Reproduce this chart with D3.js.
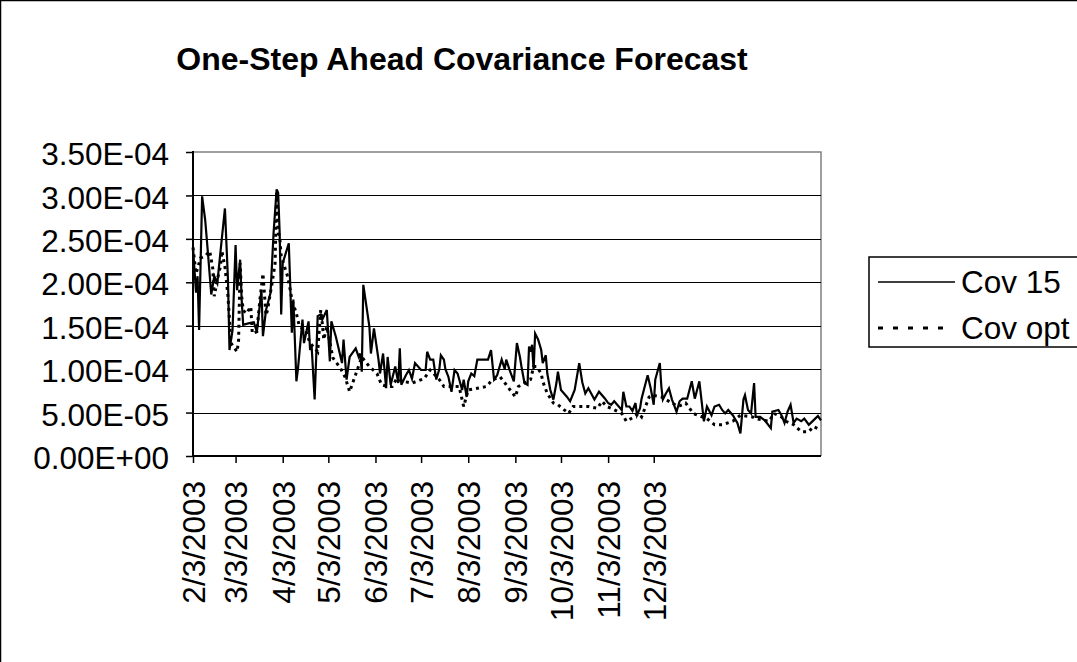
<!DOCTYPE html>
<html>
<head>
<meta charset="utf-8">
<script src="https://cdn.jsdelivr.net/npm/d3@7"></script>
<style>
  body { margin: 0; background: #fff; }
  svg { display: block; font-family: Arial, "Liberation Sans", sans-serif; }
</style>
</head>
<body>
<div id="chart"></div>
<script>
//data
//days are counted from the first observation (2/3/2003), values in units of 1e-4
var startDate = "2/3/2003";
var endDay = 413;

var tickLabels = ["2/3/2003","3/3/2003","4/3/2003","5/3/2003","6/3/2003","7/3/2003",
                  "8/3/2003","9/3/2003","10/3/2003","11/3/2003","12/3/2003"];

var yTicks = [0, 0.5, 1, 1.5, 2, 2.5, 3, 3.5];

var cov15Days = [0,2,3,4,6,8,10,12,14,16,18,21,23,24,26,28,29,31,32,33,37,40,42,45,46,48,51,53,55,56,
  57,58,59,63,65,66,68,69,72,73,76,77,78,80,82,84,85,88,90,91,94,96,98,99,101,103,107,109,110,111,
  112,116,117,119,122,123,125,127,128,130,133,135,136,137,140,142,144,146,150,153,154,156,158,159,160,162,163,165,166,168,
  170,172,174,177,178,180,181,183,185,187,194,196,198,200,203,205,206,208,211,213,215,216,218,220,221,222,223,224,225,227,
  229,230,232,233,235,237,239,240,242,246,248,251,254,256,258,260,264,267,271,273,275,277,280,282,283,285,287,289,291,292,
  294,295,299,301,303,304,307,308,309,311,313,315,318,320,322,325,328,330,333,336,338,341,343,346,348,350,352,353,355,358,
  360,362,363,365,367,369,370,373,376,380,381,385,387,389,391,393,395,397,400,402,405,408,411,413];
var cov15 = [2.40,1.88,2.07,1.45,2.99,2.72,2.30,1.86,2.07,1.99,2.34,2.85,2.03,1.22,1.45,2.43,1.91,2.26,1.80,1.51,1.53,1.54,1.43,1.91,1.38,1.68,1.88,2.57,3.07,3.03,
  2.57,1.63,2.22,2.45,1.42,1.80,0.86,1.00,1.57,1.30,1.55,1.22,1.27,0.65,1.61,1.63,1.57,1.68,1.09,1.55,1.37,1.22,1.07,1.34,0.88,1.14,1.24,1.14,1.18,0.97,
  1.97,1.49,1.18,1.47,1.11,0.95,1.18,0.78,1.14,0.82,1.03,0.84,1.24,0.82,0.93,0.99,0.89,1.07,0.99,0.99,1.20,1.11,1.11,0.99,0.88,1.00,1.16,1.11,1.00,0.91,
  0.74,0.99,0.95,0.76,0.88,0.68,0.86,0.95,0.92,1.11,1.11,1.22,0.88,0.93,1.11,1.00,1.11,1.00,0.86,1.30,1.14,1.03,0.84,0.82,1.26,1.20,1.28,0.99,1.41,1.34,
  1.22,1.07,1.16,0.95,0.76,0.65,0.84,0.97,0.76,0.68,0.63,0.76,1.07,0.85,0.72,0.78,0.65,0.74,0.66,0.61,0.59,0.63,0.57,0.53,0.74,0.57,0.57,0.52,0.61,0.47,
  0.55,0.66,0.93,0.78,0.59,0.88,1.07,0.80,0.65,0.72,0.78,0.65,0.51,0.63,0.66,0.66,0.86,0.66,0.86,0.40,0.57,0.47,0.57,0.59,0.53,0.49,0.53,0.51,0.47,0.38,
  0.26,0.65,0.70,0.53,0.49,0.84,0.45,0.45,0.41,0.32,0.51,0.53,0.47,0.38,0.51,0.59,0.38,0.43,0.40,0.43,0.36,0.41,0.46,0.41];

var covOptDays = [0,2,5,8,11,13,14,16,18,19,21,23,25,29,30,31,32,33,35,38,39,42,44,46,48,49,52,54,55,56,
  57,58,62,64,65,68,70,74,77,82,84,85,86,88,92,97,100,103,108,111,116,121,124,128,131,134,138,144,152,156,
  162,165,170,175,178,181,193,197,202,206,212,214,218,222,224,226,229,230,233,237,240,247,250,257,260,266,269,272,275,282,
  285,290,293,295,300,302,308,310,319,324,329,338,343,348,355,360,368,370,379,382,387,390,395,400,405,408,413];
var covOpt = [2.40,2.10,2.28,2.30,2.36,2.16,1.84,2.03,2.18,2.36,2.18,1.84,1.30,1.20,1.34,2.22,1.84,1.68,1.64,1.72,1.41,1.43,1.80,2.10,1.62,1.68,1.99,2.22,3.03,2.57,
  2.53,2.30,2.08,1.91,1.80,1.64,1.49,1.45,1.30,1.20,1.68,1.53,1.34,1.49,1.13,1.01,0.91,0.74,0.99,1.14,1.03,0.95,0.82,0.80,0.80,0.89,0.86,0.84,0.89,0.99,
  0.88,0.80,0.80,0.80,0.57,0.76,0.80,0.88,0.91,0.82,0.68,0.80,0.84,0.88,1.03,1.03,0.95,0.86,0.72,0.61,0.59,0.49,0.57,0.57,0.57,0.55,0.63,0.57,0.55,0.49,
  0.40,0.45,0.49,0.45,0.68,0.70,0.68,0.66,0.57,0.61,0.49,0.43,0.36,0.36,0.40,0.47,0.45,0.43,0.40,0.49,0.45,0.40,0.36,0.28,0.28,0.34,0.30];

var seriesNames = ["Cov 15", "Cov opt"];

//layout
var W = 1077, H = 662;
var plot = {left: 193, right: 821, top: 152, bottom: 456};
var labelSize = "31.5px";

var parse = d3.timeParse("%m/%d/%Y");
var t0 = parse(startDate);

var x = d3.scaleTime()
  .domain([t0, d3.timeDay.offset(t0, endDay)])
  .range([plot.left, plot.right]);
var y = d3.scaleLinear()
  .domain([0, 3.5e-4])
  .range([plot.bottom, plot.top]);

function sci(v){
  var parts = v.toExponential(2).split("e");
  var e = +parts[1];
  return parts[0] + "E" + (e < 0 ? "-" : "+") + d3.format("02d")(Math.abs(e));
}

function toPoints(days, vals){
  return days.map(function(d,i){ return {date: d3.timeDay.offset(t0, d), value: vals[i] * 1e-4}; });
}

var svg = d3.select("#chart").append("svg")
  .attr("width", W).attr("height", H);

svg.append("rect").attr("width", W).attr("height", H).attr("fill", "#fff");

//outer chart frame (runs off the right side)
svg.append("path")
  .attr("d", "M0.5," + (H + 5) + "V0.5H" + (W + 5))
  .attr("fill", "none").attr("stroke", "#000").attr("stroke-width", 1.5);

//title
svg.append("text")
  .attr("x", 462).attr("y", 70)
  .attr("text-anchor", "middle")
  .style("font-size", "32px").style("font-weight", "bold")
  .text("One-Step Ahead Covariance Forecast");

//plot frame, top and right in grey
svg.append("path")
  .attr("d", "M" + plot.left + "," + plot.top + "H" + plot.right + "V" + plot.bottom)
  .attr("fill", "none").attr("stroke", "#808080").attr("stroke-width", 1.5);

//gridlines
svg.append("g").selectAll("line")
  .data(yTicks.filter(function(v){ return v > 0 && v < 3.5; }))
  .enter().append("line")
  .attr("x1", plot.left).attr("x2", plot.right)
  .attr("y1", function(d){ return Math.round(y(d * 1e-4)) + 0.5; })
  .attr("y2", function(d){ return Math.round(y(d * 1e-4)) + 0.5; })
  .attr("stroke", "#000").attr("stroke-width", 1.2);

//y axis
var yAxis = svg.append("g")
  .attr("transform", "translate(" + plot.left + ",0)")
  .call(d3.axisLeft(y)
    .tickValues(yTicks.map(function(v){ return v * 1e-4; }))
    .tickFormat(sci).tickSize(7).tickPadding(17));
yAxis.select(".domain").attr("stroke-width", 2)
  .attr("d", "M0," + (plot.top - 1) + "V" + (plot.bottom + 1));
yAxis.selectAll(".tick line").attr("stroke-width", 1.5);
yAxis.selectAll("text")
  .style("font-size", labelSize)
  .attr("fill", "#000").attr("dy", "0.40em");

//x axis
var xAxis = svg.append("g")
  .attr("transform", "translate(0," + plot.bottom + ")")
  .call(d3.axisBottom(x)
    .tickValues(tickLabels.map(parse))
    .tickFormat(function(d,i){ return tickLabels[i]; })
    .tickSize(7).tickSizeOuter(0));
xAxis.select(".domain").attr("stroke-width", 2).attr("d", "M" + (plot.left - 1) + ",0H" + plot.right);
xAxis.selectAll(".tick line").attr("stroke-width", 1.5);
xAxis.selectAll("text")
  .style("font-size", labelSize)
  .attr("fill", "#000")
  .attr("text-anchor", "end")
  .attr("transform", "rotate(-90)")
  .attr("x", -25).attr("y", 0).attr("dy", "0.36em");

//series
var line = d3.line()
  .x(function(d){ return x(d.date); })
  .y(function(d){ return y(d.value); });

var series = [
  {name: seriesNames[0], points: toPoints(cov15Days, cov15), dash: null, width: 2.2},
  {name: seriesNames[1], points: toPoints(covOptDays, covOpt), dash: "3,4", width: 3}
];

svg.append("g").selectAll("path")
  .data(series)
  .enter().append("path")
  .attr("d", function(d){ return line(d.points); })
  .attr("fill", "none")
  .attr("stroke", "#000")
  .attr("stroke-width", function(d){ return d.width; })
  .attr("stroke-dasharray", function(d){ return d.dash; })
  .attr("stroke-linejoin", "miter");

//legend
var legend = svg.append("g");
legend.append("rect")
  .attr("x", 869).attr("y", 257).attr("width", 260).attr("height", 90)
  .attr("fill", "#fff").attr("stroke", "#000").attr("stroke-width", 1.5);

var items = legend.selectAll("g.item")
  .data(series)
  .enter().append("g").classed("item", true)
  .attr("transform", function(d,i){ return "translate(0," + (282 + i * 46) + ")"; });
items.append("line")
  .attr("x1", 878)
  .attr("x2", function(d){ return d.dash ? 946 : 955; })
  .attr("stroke", "#000")
  .attr("stroke-width", function(d){ return d.dash ? 3 : 1.5; })
  .attr("stroke-dasharray", function(d){ return d.dash ? "5,10" : null; });
items.append("text")
  .attr("x", 961).attr("dy", "0.36em")
  .style("font-size", labelSize)
  .text(function(d){ return d.name; });
</script>
</body>
</html>
